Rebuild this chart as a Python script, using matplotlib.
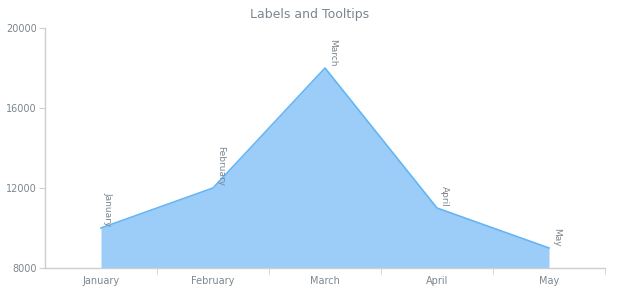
import matplotlib
matplotlib.use("Agg")
import matplotlib.pyplot as plt
import numpy as np

months = ["January", "February", "March", "April", "May"]
values = [10000, 12000, 18000, 11000, 9000]
yticks = [8000, 12000, 16000, 20000]

fig = plt.figure(figsize=(6.2, 3.0), dpi=100)
ax = fig.add_axes([45/620, 32/300, 560/620, 240/300])

x = np.arange(len(months))
ax.fill_between(x, 8000, values, color="#9ccdf8", linewidth=0, zorder=2)
ax.plot(x, values, color="#64b5f6", linewidth=1.2, zorder=3)

for xi, v, m in zip(x, values, months):
    ax.annotate(m, (xi, v), xytext=(2, 1), textcoords="offset points",
                rotation=-90, ha="left", va="bottom", fontsize=6.5,
                color="#7c868e", zorder=4)

ax.set_xlim(-0.5, 4.5)
ax.set_ylim(8000, 20000)
ax.set_yticks(yticks)
ax.set_yticklabels([str(t) for t in yticks])
ax.set_xticks(x)
ax.set_xticklabels(months)
ax.set_xticks(np.arange(0.5, 5, 1), minor=True)
ax.tick_params(axis="x", which="major", length=0, pad=6, labelsize=7, labelcolor="#7c868e")
ax.tick_params(axis="x", which="minor", length=4, color="#cecece", direction="out")
ax.tick_params(axis="y", length=4, color="#cecece", labelsize=7, labelcolor="#7c868e", pad=2)

for s in ["top", "right"]:
    ax.spines[s].set_visible(False)
for s in ["left", "bottom"]:
    ax.spines[s].set_color("#cecece")
    ax.spines[s].set_linewidth(1)

fig.text(0.5, 1 - 14.5/300, "Labels and Tooltips", ha="center", va="center",
         fontsize=9, color="#7c868e")

fig.savefig("out.png", dpi=100)
